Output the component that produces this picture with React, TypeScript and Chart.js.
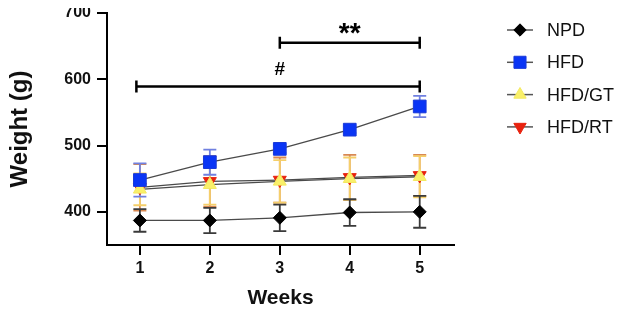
import React, { useEffect, useRef } from "react";
import { Chart, registerables } from "chart.js";

Chart.register(...registerables);

const weeks = [1, 2, 3, 4, 5];
const seriesNames = ["NPD", "HFD", "HFD/GT", "HFD/RT"];
const npdMean = [387, 387, 391, 399, 400];
const npdErr = [17, 19, 20, 20, 24];
const hfdMean = [448, 475, 495, 524, 559];
const hfdErr = [25, 19, 6, 5, 16];
const gtMean = [434, 441, 446, 450, 453];
const gtErr = [24, 30, 32, 32, 31];
const rtMean = [437, 446, 448, 452, 455];
const rtErr = [35, 38, 34, 34, 31];
const yTicks = [400, 500, 600, 700];

const bracketStart = [3, 0.95];
const bracketEnd = [5, 5];
const bracketLevel = [655, 589];
const bracketLabel = ["**", "#"];
const bracketLabelX = [4, 3];
const bracketLabelY = [678, 615];

const FONT = "'Liberation Sans', Arial, sans-serif";

const markerStyles = [
  { pointStyle: "rectRot", radius: 6.5, rotation: 0, fill: "#000000", stroke: "#000000", err: "#3a3a3a" },
  { pointStyle: "rect", radius: 9, rotation: 0, fill: "#0a35f5", stroke: "#1a3ad8", err: "#7080e0" },
  { pointStyle: "triangle", radius: 7.5, rotation: 0, fill: "#f9f06a", stroke: "#f3e860", err: "#f5cf6a" },
  { pointStyle: "triangle", radius: 7.5, rotation: 180, fill: "#e8220e", stroke: "#e8220e", err: "#d88852" },
];

const means = [npdMean, hfdMean, gtMean, rtMean];
const errs = [npdErr, hfdErr, gtErr, rtErr];

function drawMarker(ctx: CanvasRenderingContext2D, d: number, x: number, y: number, scale: number) {
  const m = markerStyles[d];
  const r = m.radius * scale;
  ctx.beginPath();
  if (m.pointStyle === "rectRot") {
    ctx.moveTo(x, y - r);
    ctx.lineTo(x + r, y);
    ctx.lineTo(x, y + r);
    ctx.lineTo(x - r, y);
  } else if (m.pointStyle === "rect") {
    const s = r * Math.SQRT1_2;
    ctx.rect(x - s, y - s, 2 * s, 2 * s);
  } else {
    const dir = m.rotation === 180 ? -1 : 1;
    const h = r * 1.5;
    ctx.moveTo(x, y - dir * r);
    ctx.lineTo(x + r * 0.866, y + dir * (h - r));
    ctx.lineTo(x - r * 0.866, y + dir * (h - r));
  }
  ctx.closePath();
  ctx.fillStyle = m.fill;
  ctx.strokeStyle = m.stroke;
  ctx.lineWidth = 1;
  ctx.fill();
  ctx.stroke();
}

const errorBarPlugin = {
  id: "errorBars",
  beforeDatasetsDraw(chart: any) {
    const ctx = chart.ctx;
    const xs = chart.scales.x;
    const ys = chart.scales.y;
    ctx.save();
    for (let d = means.length - 1; d >= 0; d--) {
      ctx.strokeStyle = markerStyles[d].err;
      ctx.lineWidth = 1.8;
      for (let i = 0; i < weeks.length; i++) {
        const x = xs.getPixelForValue(weeks[i]);
        const yTop = ys.getPixelForValue(means[d][i] + errs[d][i]);
        const yBot = ys.getPixelForValue(means[d][i] - errs[d][i]);
        ctx.beginPath();
        ctx.moveTo(x, yTop);
        ctx.lineTo(x, yBot);
        ctx.moveTo(x - 6.5, yTop);
        ctx.lineTo(x + 6.5, yTop);
        ctx.moveTo(x - 6.5, yBot);
        ctx.lineTo(x + 6.5, yBot);
        ctx.stroke();
      }
    }
    ctx.restore();
  },
};

const bracketPlugin = {
  id: "brackets",
  afterDatasetsDraw(chart: any) {
    const ctx = chart.ctx;
    const xs = chart.scales.x;
    const ys = chart.scales.y;
    ctx.save();
    ctx.strokeStyle = "#000";
    ctx.fillStyle = "#000";
    ctx.lineWidth = 2.5;
    for (let b = 0; b < bracketStart.length; b++) {
      const x1 = xs.getPixelForValue(bracketStart[b]);
      const x2 = xs.getPixelForValue(bracketEnd[b]);
      const y = ys.getPixelForValue(bracketLevel[b]);
      ctx.beginPath();
      ctx.moveTo(x1, y);
      ctx.lineTo(x2, y);
      ctx.moveTo(x1, y - 6);
      ctx.lineTo(x1, y + 6);
      ctx.moveTo(x2, y - 6);
      ctx.lineTo(x2, y + 6);
      ctx.stroke();
      const lx = xs.getPixelForValue(bracketLabelX[b]);
      const ly = ys.getPixelForValue(bracketLabelY[b]);
      ctx.textAlign = "center";
      ctx.textBaseline = "middle";
      ctx.font = b === 0 ? `bold 28px ${FONT}` : `bold 19px ${FONT}`;
      ctx.fillText(bracketLabel[b], lx, b === 0 ? ly + 7 : ly);
    }
    ctx.restore();
  },
};

const legendPlugin = {
  id: "customLegend",
  afterDraw(chart: any) {
    const ctx = chart.ctx;
    const area = chart.chartArea;
    const mx = area.right + 66;
    ctx.save();
    for (let d = 0; d < seriesNames.length; d++) {
      const y = 30 + d * 32.3;
      ctx.strokeStyle = "#555";
      ctx.lineWidth = 1.5;
      ctx.beginPath();
      ctx.moveTo(mx - 13, y);
      ctx.lineTo(mx + 13, y);
      ctx.stroke();
      drawMarker(ctx, d, mx, y, 0.95);
      ctx.fillStyle = "#111";
      ctx.font = `18px ${FONT}`;
      ctx.textAlign = "left";
      ctx.textBaseline = "middle";
      ctx.fillText(seriesNames[d], mx + 27, y + 1);
    }
    ctx.restore();
  },
};

export default function App() {
  const ref = useRef<HTMLCanvasElement | null>(null);
  useEffect(() => {
    if (!ref.current) return;
    const datasets = seriesNames.map((name, d) => ({
      label: name,
      data: weeks.map((w, i) => ({ x: w, y: means[d][i] })),
      borderColor: "#4a4a4a",
      borderWidth: 1.3,
      backgroundColor: markerStyles[d].fill,
      pointBackgroundColor: markerStyles[d].fill,
      pointBorderColor: markerStyles[d].stroke,
      pointBorderWidth: 1,
      pointStyle: markerStyles[d].pointStyle,
      pointRotation: markerStyles[d].rotation,
      pointRadius: markerStyles[d].radius,
      tension: 0,
      fill: false,
    }));
    const chart = new Chart(ref.current, {
      type: "line",
      data: { datasets },
      plugins: [errorBarPlugin, bracketPlugin, legendPlugin],
      options: {
        animation: false,
        responsive: true,
        maintainAspectRatio: false,
        layout: { autoPadding: false, padding: { top: 13, right: 170, left: 8, bottom: 0 } },
        plugins: { legend: { display: false }, tooltip: { enabled: false } },
        scales: {
          x: {
            type: "linear",
            min: 0.53,
            max: 5.49,
            afterBuildTicks: (s: any) => {
              s.ticks = weeks.map((v) => ({ value: v }));
            },
            afterFit: (s: any) => {
              s.height = 61;
              s.paddingLeft = 0;
              s.paddingRight = 0;
            },
            ticks: {
              color: "#111",
              font: { family: FONT, size: 16, weight: "bold" },
              padding: 4,
              maxRotation: 0,
              callback: (v: any) => String(v),
            },
            grid: { drawOnChartArea: false, drawTicks: true, tickLength: 10, color: "#000", lineWidth: 2 },
            border: { display: true, color: "#000", width: 2 },
            title: {
              display: true,
              text: "Weeks",
              color: "#111",
              font: { family: FONT, size: 21, weight: "bold" },
              padding: { top: 0, bottom: -5 },
            },
          },
          y: {
            type: "linear",
            min: 350,
            max: 700,
            afterBuildTicks: (s: any) => {
              s.ticks = yTicks.map((v) => ({ value: v }));
            },
            afterFit: (s: any) => {
              s.width = 99;
              s.paddingTop = 0;
              s.paddingBottom = 0;
            },
            ticks: {
              color: "#111",
              font: { family: FONT, size: 16, weight: "bold" },
              padding: 6,
              callback: (v: any) => String(v),
            },
            grid: { drawOnChartArea: false, drawTicks: true, tickLength: 10, color: "#000", lineWidth: 2 },
            border: { display: true, color: "#000", width: 2 },
            title: {
              display: true,
              text: "Weight (g)",
              color: "#111",
              font: { family: FONT, size: 24, weight: "bold" },
              padding: { top: -2, bottom: 0 },
            },
          },
        },
      } as any,
    });
    return () => chart.destroy();
  }, []);
  return (
    <div style={{ width: 624, height: 306, marginTop: -8, marginLeft: -8, position: "relative", background: "#fff" }}>
      <canvas ref={ref} />
    </div>
  );
}
